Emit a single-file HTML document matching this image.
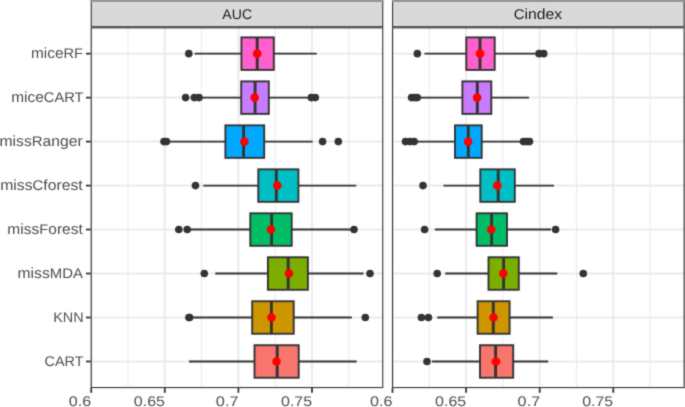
<!DOCTYPE html>
<html><head><meta charset="utf-8"><style>
html,body{margin:0;padding:0;background:#fff;}
body{width:685px;height:407px;overflow:hidden;}
svg{display:block;font-family:"Liberation Sans", sans-serif;will-change:transform;text-rendering:geometricPrecision;}
</style></head><body>
<svg width="685" height="407" viewBox="0 0 685 407">
<defs><filter id="soft" x="0" y="0" width="685" height="407" filterUnits="userSpaceOnUse" color-interpolation-filters="sRGB"><feConvolveMatrix order="3" kernelMatrix="0.0225 0.1050 0.0225 0.1050 0.4900 0.1050 0.0225 0.1050 0.0225" edgeMode="duplicate" preserveAlpha="true"/></filter></defs>
<g filter="url(#soft)">
<rect x="0" y="0" width="685" height="407" fill="#ffffff"/>
<line x1="128" y1="27.3" x2="128" y2="388.1" stroke="#EBEBEB" stroke-width="1.1"/>
<line x1="201.6" y1="27.3" x2="201.6" y2="388.1" stroke="#EBEBEB" stroke-width="1.1"/>
<line x1="275.2" y1="27.3" x2="275.2" y2="388.1" stroke="#EBEBEB" stroke-width="1.1"/>
<line x1="348.8" y1="27.3" x2="348.8" y2="388.1" stroke="#EBEBEB" stroke-width="1.1"/>
<line x1="91.2" y1="27.3" x2="91.2" y2="388.1" stroke="#EBEBEB" stroke-width="2.0"/>
<line x1="164.8" y1="27.3" x2="164.8" y2="388.1" stroke="#EBEBEB" stroke-width="2.0"/>
<line x1="238.4" y1="27.3" x2="238.4" y2="388.1" stroke="#EBEBEB" stroke-width="2.0"/>
<line x1="312" y1="27.3" x2="312" y2="388.1" stroke="#EBEBEB" stroke-width="2.0"/>
<line x1="90.7" y1="53.65" x2="383.3" y2="53.65" stroke="#EBEBEB" stroke-width="2.0"/>
<line x1="90.7" y1="97.62" x2="383.3" y2="97.62" stroke="#EBEBEB" stroke-width="2.0"/>
<line x1="90.7" y1="141.6" x2="383.3" y2="141.6" stroke="#EBEBEB" stroke-width="2.0"/>
<line x1="90.7" y1="185.58" x2="383.3" y2="185.58" stroke="#EBEBEB" stroke-width="2.0"/>
<line x1="90.7" y1="229.55" x2="383.3" y2="229.55" stroke="#EBEBEB" stroke-width="2.0"/>
<line x1="90.7" y1="273.52" x2="383.3" y2="273.52" stroke="#EBEBEB" stroke-width="2.0"/>
<line x1="90.7" y1="317.5" x2="383.3" y2="317.5" stroke="#EBEBEB" stroke-width="2.0"/>
<line x1="90.7" y1="361.47" x2="383.3" y2="361.47" stroke="#EBEBEB" stroke-width="2.0"/>
<line x1="194.6" y1="53.65" x2="241.4" y2="53.65" stroke="#333333" stroke-width="1.9"/>
<line x1="273.8" y1="53.65" x2="316.7" y2="53.65" stroke="#333333" stroke-width="1.9"/>
<rect x="241.4" y="37.4" width="32.4" height="32.5" fill="#FF61CC" stroke="#333333" stroke-width="1.9"/>
<line x1="257.2" y1="37.4" x2="257.2" y2="69.9" stroke="#333333" stroke-width="2.9"/>
<circle cx="188.8" cy="53.65" r="3.8" fill="#333333"/>
<circle cx="257.2" cy="53.65" r="4.3" fill="#FF0000"/>
<line x1="199" y1="97.62" x2="241.2" y2="97.62" stroke="#333333" stroke-width="1.9"/>
<line x1="268.8" y1="97.62" x2="307.8" y2="97.62" stroke="#333333" stroke-width="1.9"/>
<rect x="241.2" y="81.38" width="27.6" height="32.5" fill="#C77CFF" stroke="#333333" stroke-width="1.9"/>
<line x1="255.1" y1="81.38" x2="255.1" y2="113.88" stroke="#333333" stroke-width="2.9"/>
<circle cx="185.6" cy="97.62" r="3.8" fill="#333333"/>
<circle cx="194.3" cy="97.62" r="3.8" fill="#333333"/>
<circle cx="199" cy="97.62" r="3.8" fill="#333333"/>
<circle cx="311.3" cy="97.62" r="3.8" fill="#333333"/>
<circle cx="315.3" cy="97.62" r="3.8" fill="#333333"/>
<circle cx="254.7" cy="97.62" r="4.3" fill="#FF0000"/>
<line x1="170" y1="141.6" x2="225.4" y2="141.6" stroke="#333333" stroke-width="1.9"/>
<line x1="264.2" y1="141.6" x2="312.7" y2="141.6" stroke="#333333" stroke-width="1.9"/>
<rect x="225.4" y="125.35" width="38.8" height="32.5" fill="#00A9FF" stroke="#333333" stroke-width="1.9"/>
<line x1="243.6" y1="125.35" x2="243.6" y2="157.85" stroke="#333333" stroke-width="2.9"/>
<circle cx="164" cy="141.6" r="3.8" fill="#333333"/>
<circle cx="166.5" cy="141.6" r="3.8" fill="#333333"/>
<circle cx="322.6" cy="141.6" r="3.8" fill="#333333"/>
<circle cx="338.3" cy="141.6" r="3.8" fill="#333333"/>
<circle cx="244.4" cy="141.6" r="4.3" fill="#FF0000"/>
<line x1="203.3" y1="185.58" x2="258.3" y2="185.58" stroke="#333333" stroke-width="1.9"/>
<line x1="298.4" y1="185.58" x2="356.2" y2="185.58" stroke="#333333" stroke-width="1.9"/>
<rect x="258.3" y="169.33" width="40.1" height="32.5" fill="#00BFC4" stroke="#333333" stroke-width="1.9"/>
<line x1="276.3" y1="169.33" x2="276.3" y2="201.83" stroke="#333333" stroke-width="2.9"/>
<circle cx="195.5" cy="185.58" r="3.8" fill="#333333"/>
<circle cx="277.3" cy="185.58" r="4.3" fill="#FF0000"/>
<line x1="190" y1="229.55" x2="250.3" y2="229.55" stroke="#333333" stroke-width="1.9"/>
<line x1="291.7" y1="229.55" x2="350.7" y2="229.55" stroke="#333333" stroke-width="1.9"/>
<rect x="250.3" y="213.3" width="41.4" height="32.5" fill="#00BE67" stroke="#333333" stroke-width="1.9"/>
<line x1="271.6" y1="213.3" x2="271.6" y2="245.8" stroke="#333333" stroke-width="2.9"/>
<circle cx="178.8" cy="229.55" r="3.8" fill="#333333"/>
<circle cx="187.2" cy="229.55" r="3.8" fill="#333333"/>
<circle cx="354" cy="229.55" r="3.8" fill="#333333"/>
<circle cx="270.9" cy="229.55" r="4.3" fill="#FF0000"/>
<line x1="215.3" y1="273.52" x2="267.9" y2="273.52" stroke="#333333" stroke-width="1.9"/>
<line x1="307.9" y1="273.52" x2="363.5" y2="273.52" stroke="#333333" stroke-width="1.9"/>
<rect x="267.9" y="257.27" width="40" height="32.5" fill="#7CAE00" stroke="#333333" stroke-width="1.9"/>
<line x1="288.2" y1="257.27" x2="288.2" y2="289.77" stroke="#333333" stroke-width="2.9"/>
<circle cx="204.3" cy="273.52" r="3.8" fill="#333333"/>
<circle cx="370" cy="273.52" r="3.8" fill="#333333"/>
<circle cx="289" cy="273.52" r="4.3" fill="#FF0000"/>
<line x1="190" y1="317.5" x2="252.2" y2="317.5" stroke="#333333" stroke-width="1.9"/>
<line x1="293.7" y1="317.5" x2="351.8" y2="317.5" stroke="#333333" stroke-width="1.9"/>
<rect x="252.2" y="301.25" width="41.5" height="32.5" fill="#CD9600" stroke="#333333" stroke-width="1.9"/>
<line x1="271.4" y1="301.25" x2="271.4" y2="333.75" stroke="#333333" stroke-width="2.9"/>
<circle cx="188.9" cy="317.5" r="3.8" fill="#333333"/>
<circle cx="189.6" cy="317.5" r="3.8" fill="#333333"/>
<circle cx="365.3" cy="317.5" r="3.8" fill="#333333"/>
<circle cx="271.5" cy="317.5" r="4.3" fill="#FF0000"/>
<line x1="189" y1="361.47" x2="254.5" y2="361.47" stroke="#333333" stroke-width="1.9"/>
<line x1="298.7" y1="361.47" x2="356.7" y2="361.47" stroke="#333333" stroke-width="1.9"/>
<rect x="254.5" y="345.22" width="44.2" height="32.5" fill="#F8766D" stroke="#333333" stroke-width="1.9"/>
<line x1="277.2" y1="345.22" x2="277.2" y2="377.72" stroke="#333333" stroke-width="2.9"/>
<circle cx="276.5" cy="361.47" r="4.3" fill="#FF0000"/>
<rect x="91.25" y="27.85" width="291.5" height="359.7" fill="none" stroke="#333333" stroke-width="1.1"/>
<rect x="91.25" y="0.55" width="291.5" height="26.2" fill="#D9D9D9" stroke="#333333" stroke-width="1.1"/>
<rect x="90.7" y="0" width="292.6" height="2" fill="#969696"/>
<line x1="91.2" y1="388.1" x2="91.2" y2="392.8" stroke="#333333" stroke-width="1.8"/>
<text x="68.75" y="406.3" font-size="14" fill="#4D4D4D" textLength="22.4" lengthAdjust="spacingAndGlyphs">0.6</text>
<line x1="164.8" y1="388.1" x2="164.8" y2="392.8" stroke="#333333" stroke-width="1.8"/>
<text x="133.82" y="406.3" font-size="14" fill="#4D4D4D" textLength="31.18" lengthAdjust="spacingAndGlyphs">0.65</text>
<line x1="238.4" y1="388.1" x2="238.4" y2="392.8" stroke="#333333" stroke-width="1.8"/>
<text x="215.88" y="406.3" font-size="14" fill="#4D4D4D" textLength="22.81" lengthAdjust="spacingAndGlyphs">0.7</text>
<line x1="312" y1="388.1" x2="312" y2="392.8" stroke="#333333" stroke-width="1.8"/>
<text x="280.97" y="406.3" font-size="14" fill="#4D4D4D" textLength="31.25" lengthAdjust="spacingAndGlyphs">0.75</text>
<line x1="429.3" y1="27.3" x2="429.3" y2="388.1" stroke="#EBEBEB" stroke-width="1.1"/>
<line x1="502.9" y1="27.3" x2="502.9" y2="388.1" stroke="#EBEBEB" stroke-width="1.1"/>
<line x1="576.5" y1="27.3" x2="576.5" y2="388.1" stroke="#EBEBEB" stroke-width="1.1"/>
<line x1="650.1" y1="27.3" x2="650.1" y2="388.1" stroke="#EBEBEB" stroke-width="1.1"/>
<line x1="392.5" y1="27.3" x2="392.5" y2="388.1" stroke="#EBEBEB" stroke-width="2.0"/>
<line x1="466.1" y1="27.3" x2="466.1" y2="388.1" stroke="#EBEBEB" stroke-width="2.0"/>
<line x1="539.7" y1="27.3" x2="539.7" y2="388.1" stroke="#EBEBEB" stroke-width="2.0"/>
<line x1="613.3" y1="27.3" x2="613.3" y2="388.1" stroke="#EBEBEB" stroke-width="2.0"/>
<line x1="392.0" y1="53.65" x2="684.7" y2="53.65" stroke="#EBEBEB" stroke-width="2.0"/>
<line x1="392.0" y1="97.62" x2="684.7" y2="97.62" stroke="#EBEBEB" stroke-width="2.0"/>
<line x1="392.0" y1="141.6" x2="684.7" y2="141.6" stroke="#EBEBEB" stroke-width="2.0"/>
<line x1="392.0" y1="185.58" x2="684.7" y2="185.58" stroke="#EBEBEB" stroke-width="2.0"/>
<line x1="392.0" y1="229.55" x2="684.7" y2="229.55" stroke="#EBEBEB" stroke-width="2.0"/>
<line x1="392.0" y1="273.52" x2="684.7" y2="273.52" stroke="#EBEBEB" stroke-width="2.0"/>
<line x1="392.0" y1="317.5" x2="684.7" y2="317.5" stroke="#EBEBEB" stroke-width="2.0"/>
<line x1="392.0" y1="361.47" x2="684.7" y2="361.47" stroke="#EBEBEB" stroke-width="2.0"/>
<line x1="424.5" y1="53.65" x2="466.3" y2="53.65" stroke="#333333" stroke-width="1.9"/>
<line x1="494.7" y1="53.65" x2="535.5" y2="53.65" stroke="#333333" stroke-width="1.9"/>
<rect x="466.3" y="37.4" width="28.4" height="32.5" fill="#FF61CC" stroke="#333333" stroke-width="1.9"/>
<line x1="480" y1="37.4" x2="480" y2="69.9" stroke="#333333" stroke-width="2.9"/>
<circle cx="417.3" cy="53.65" r="3.8" fill="#333333"/>
<circle cx="539" cy="53.65" r="3.8" fill="#333333"/>
<circle cx="543.7" cy="53.65" r="3.8" fill="#333333"/>
<circle cx="480" cy="53.65" r="4.3" fill="#FF0000"/>
<line x1="418.5" y1="97.62" x2="462.4" y2="97.62" stroke="#333333" stroke-width="1.9"/>
<line x1="491.3" y1="97.62" x2="529" y2="97.62" stroke="#333333" stroke-width="1.9"/>
<rect x="462.4" y="81.38" width="28.9" height="32.5" fill="#C77CFF" stroke="#333333" stroke-width="1.9"/>
<line x1="477.3" y1="81.38" x2="477.3" y2="113.88" stroke="#333333" stroke-width="2.9"/>
<circle cx="411.6" cy="97.62" r="3.8" fill="#333333"/>
<circle cx="414.6" cy="97.62" r="3.8" fill="#333333"/>
<circle cx="417.3" cy="97.62" r="3.8" fill="#333333"/>
<circle cx="477.1" cy="97.62" r="4.3" fill="#FF0000"/>
<line x1="418" y1="141.6" x2="455" y2="141.6" stroke="#333333" stroke-width="1.9"/>
<line x1="481.7" y1="141.6" x2="520" y2="141.6" stroke="#333333" stroke-width="1.9"/>
<rect x="455" y="125.35" width="26.7" height="32.5" fill="#00A9FF" stroke="#333333" stroke-width="1.9"/>
<line x1="468.3" y1="125.35" x2="468.3" y2="157.85" stroke="#333333" stroke-width="2.9"/>
<circle cx="405.5" cy="141.6" r="3.8" fill="#333333"/>
<circle cx="410" cy="141.6" r="3.8" fill="#333333"/>
<circle cx="414.2" cy="141.6" r="3.8" fill="#333333"/>
<circle cx="523.5" cy="141.6" r="3.8" fill="#333333"/>
<circle cx="526.5" cy="141.6" r="3.8" fill="#333333"/>
<circle cx="529.5" cy="141.6" r="3.8" fill="#333333"/>
<circle cx="468.1" cy="141.6" r="4.3" fill="#FF0000"/>
<line x1="443.4" y1="185.58" x2="480.3" y2="185.58" stroke="#333333" stroke-width="1.9"/>
<line x1="514.8" y1="185.58" x2="554" y2="185.58" stroke="#333333" stroke-width="1.9"/>
<rect x="480.3" y="169.33" width="34.5" height="32.5" fill="#00BFC4" stroke="#333333" stroke-width="1.9"/>
<line x1="498.2" y1="169.33" x2="498.2" y2="201.83" stroke="#333333" stroke-width="2.9"/>
<circle cx="423" cy="185.58" r="3.8" fill="#333333"/>
<circle cx="497.3" cy="185.58" r="4.3" fill="#FF0000"/>
<line x1="434.9" y1="229.55" x2="476.6" y2="229.55" stroke="#333333" stroke-width="1.9"/>
<line x1="507" y1="229.55" x2="551" y2="229.55" stroke="#333333" stroke-width="1.9"/>
<rect x="476.6" y="213.3" width="30.4" height="32.5" fill="#00BE67" stroke="#333333" stroke-width="1.9"/>
<line x1="491.6" y1="213.3" x2="491.6" y2="245.8" stroke="#333333" stroke-width="2.9"/>
<circle cx="424.6" cy="229.55" r="3.8" fill="#333333"/>
<circle cx="555.6" cy="229.55" r="3.8" fill="#333333"/>
<circle cx="491.3" cy="229.55" r="4.3" fill="#FF0000"/>
<line x1="445.2" y1="273.52" x2="488.5" y2="273.52" stroke="#333333" stroke-width="1.9"/>
<line x1="518.8" y1="273.52" x2="557.3" y2="273.52" stroke="#333333" stroke-width="1.9"/>
<rect x="488.5" y="257.27" width="30.3" height="32.5" fill="#7CAE00" stroke="#333333" stroke-width="1.9"/>
<line x1="503.6" y1="257.27" x2="503.6" y2="289.77" stroke="#333333" stroke-width="2.9"/>
<circle cx="437.2" cy="273.52" r="3.8" fill="#333333"/>
<circle cx="583.3" cy="273.52" r="3.8" fill="#333333"/>
<circle cx="503.3" cy="273.52" r="4.3" fill="#FF0000"/>
<line x1="437.2" y1="317.5" x2="477.6" y2="317.5" stroke="#333333" stroke-width="1.9"/>
<line x1="509.6" y1="317.5" x2="552.9" y2="317.5" stroke="#333333" stroke-width="1.9"/>
<rect x="477.6" y="301.25" width="32" height="32.5" fill="#CD9600" stroke="#333333" stroke-width="1.9"/>
<line x1="493.3" y1="301.25" x2="493.3" y2="333.75" stroke="#333333" stroke-width="2.9"/>
<circle cx="421.4" cy="317.5" r="3.8" fill="#333333"/>
<circle cx="428.4" cy="317.5" r="3.8" fill="#333333"/>
<circle cx="493.5" cy="317.5" r="4.3" fill="#FF0000"/>
<line x1="431.9" y1="361.47" x2="480" y2="361.47" stroke="#333333" stroke-width="1.9"/>
<line x1="513.2" y1="361.47" x2="548.2" y2="361.47" stroke="#333333" stroke-width="1.9"/>
<rect x="480" y="345.22" width="33.2" height="32.5" fill="#F8766D" stroke="#333333" stroke-width="1.9"/>
<line x1="495.6" y1="345.22" x2="495.6" y2="377.72" stroke="#333333" stroke-width="2.9"/>
<circle cx="427" cy="361.47" r="3.8" fill="#333333"/>
<circle cx="496" cy="361.47" r="4.3" fill="#FF0000"/>
<rect x="392.55" y="27.85" width="291.6" height="359.7" fill="none" stroke="#333333" stroke-width="1.1"/>
<rect x="392.55" y="0.55" width="291.6" height="26.2" fill="#D9D9D9" stroke="#333333" stroke-width="1.1"/>
<rect x="392" y="0" width="292.7" height="2" fill="#969696"/>
<line x1="392.5" y1="388.1" x2="392.5" y2="392.8" stroke="#333333" stroke-width="1.8"/>
<text x="369.95" y="406.3" font-size="14" fill="#4D4D4D" textLength="22.5" lengthAdjust="spacingAndGlyphs">0.6</text>
<line x1="466.1" y1="388.1" x2="466.1" y2="392.8" stroke="#333333" stroke-width="1.8"/>
<text x="435.08" y="406.3" font-size="14" fill="#4D4D4D" textLength="31.18" lengthAdjust="spacingAndGlyphs">0.65</text>
<line x1="539.7" y1="388.1" x2="539.7" y2="392.8" stroke="#333333" stroke-width="1.8"/>
<text x="517.63" y="406.3" font-size="14" fill="#4D4D4D" textLength="22.55" lengthAdjust="spacingAndGlyphs">0.7</text>
<line x1="613.3" y1="388.1" x2="613.3" y2="392.8" stroke="#333333" stroke-width="1.8"/>
<text x="582.28" y="406.3" font-size="14" fill="#4D4D4D" textLength="30.92" lengthAdjust="spacingAndGlyphs">0.75</text>
<text x="222.36" y="18.9" font-size="14" fill="#1A1A1A" textLength="29.7" lengthAdjust="spacingAndGlyphs">AUC</text>
<text x="513.72" y="18.9" font-size="14" fill="#1A1A1A" textLength="48.34" lengthAdjust="spacingAndGlyphs">C<tspan font-size="14.75">index</tspan></text>
<line x1="86.0" y1="53.65" x2="90.7" y2="53.65" stroke="#333333" stroke-width="1.8"/>
<text x="31.04" y="58.4" font-size="14" fill="#4D4D4D" textLength="52.03" lengthAdjust="spacingAndGlyphs"><tspan font-size="14.75">mice</tspan>RF</text>
<line x1="86.0" y1="97.62" x2="90.7" y2="97.62" stroke="#333333" stroke-width="1.8"/>
<text x="11.26" y="102.38" font-size="14" fill="#4D4D4D" textLength="72.22" lengthAdjust="spacingAndGlyphs"><tspan font-size="14.75">mice</tspan>CART</text>
<line x1="86.0" y1="141.6" x2="90.7" y2="141.6" stroke="#333333" stroke-width="1.8"/>
<text x="-0.47" y="146.35" font-size="14" fill="#4D4D4D" textLength="83.19" lengthAdjust="spacingAndGlyphs"><tspan font-size="14.75">miss</tspan>R<tspan font-size="14.75">anger</tspan></text>
<line x1="86.0" y1="185.58" x2="90.7" y2="185.58" stroke="#333333" stroke-width="1.8"/>
<text x="0.17" y="190.33" font-size="14" fill="#4D4D4D" textLength="82.56" lengthAdjust="spacingAndGlyphs"><tspan font-size="14.75">miss</tspan>C<tspan font-size="14.75">forest</tspan></text>
<line x1="86.0" y1="229.55" x2="90.7" y2="229.55" stroke="#333333" stroke-width="1.8"/>
<text x="7.32" y="234.3" font-size="14" fill="#4D4D4D" textLength="75.5" lengthAdjust="spacingAndGlyphs"><tspan font-size="14.75">miss</tspan>F<tspan font-size="14.75">orest</tspan></text>
<line x1="86.0" y1="273.52" x2="90.7" y2="273.52" stroke="#333333" stroke-width="1.8"/>
<text x="17.55" y="278.27" font-size="14" fill="#4D4D4D" textLength="65.35" lengthAdjust="spacingAndGlyphs"><tspan font-size="14.75">miss</tspan>MDA</text>
<line x1="86.0" y1="317.5" x2="90.7" y2="317.5" stroke="#333333" stroke-width="1.8"/>
<text x="53.24" y="322.25" font-size="14" fill="#4D4D4D" textLength="30.48" lengthAdjust="spacingAndGlyphs">KNN</text>
<line x1="86.0" y1="361.47" x2="90.7" y2="361.47" stroke="#333333" stroke-width="1.8"/>
<text x="44.61" y="366.22" font-size="14" fill="#4D4D4D" textLength="38.82" lengthAdjust="spacingAndGlyphs">CART</text>
</g>
</svg>
</body></html>
